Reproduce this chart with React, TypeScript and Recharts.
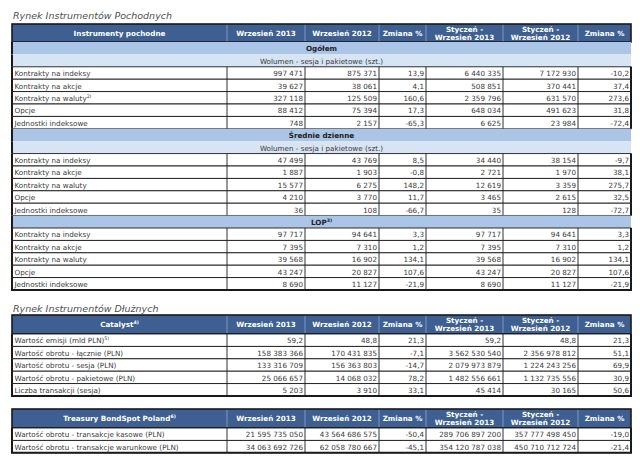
import React from "react";
import { ComposedChart, Customized } from "recharts";

// Column headers ("|" splits a header into two lines, "^" starts a footnote mark)
const derivHeader = ["Instrumenty pochodne", "Wrzesień 2013", "Wrzesień 2012", "Zmiana %", "Styczeń -|Wrzesień 2013", "Styczeń -|Wrzesień 2012", "Zmiana %"];
const catalystHeader = ["Catalyst^4)", "Wrzesień 2013", "Wrzesień 2012", "Zmiana %", "Styczeń -|Wrzesień 2013", "Styczeń -|Wrzesień 2012", "Zmiana %"];
const bondSpotHeader = ["Treasury BondSpot Poland^6)", "Wrzesień 2013", "Wrzesień 2012", "Zmiana %", "Styczeń -|Wrzesień 2013", "Styczeń -|Wrzesień 2012", "Zmiana %"];

const volumeNote = "Wolumen - sesja i pakietowe (szt.)";
const instruments = ["Kontrakty na indeksy", "Kontrakty na akcje", "Kontrakty na waluty", "Opcje", "Jednostki indeksowe"];
const instrumentsTotal = ["Kontrakty na indeksy", "Kontrakty na akcje", "Kontrakty na waluty^2)", "Opcje", "Jednostki indeksowe"];

const totalVolume = [
  ["997 471", "875 371", "13,9", "6 440 335", "7 172 930", "-10,2"],
  ["39 627", "38 061", "4,1", "508 851", "370 441", "37,4"],
  ["327 118", "125 509", "160,6", "2 359 796", "631 570", "273,6"],
  ["88 412", "75 394", "17,3", "648 034", "491 623", "31,8"],
  ["748", "2 157", "-65,3", "6 625", "23 984", "-72,4"],
];
const dailyAverage = [
  ["47 499", "43 769", "8,5", "34 440", "38 154", "-9,7"],
  ["1 887", "1 903", "-0,8", "2 721", "1 970", "38,1"],
  ["15 577", "6 275", "148,2", "12 619", "3 359", "275,7"],
  ["4 210", "3 770", "11,7", "3 465", "2 615", "32,5"],
  ["36", "108", "-66,7", "35", "128", "-72,7"],
];
const openInterest = [
  ["97 717", "94 641", "3,3", "97 717", "94 641", "3,3"],
  ["7 395", "7 310", "1,2", "7 395", "7 310", "1,2"],
  ["39 568", "16 902", "134,1", "39 568", "16 902", "134,1"],
  ["43 247", "20 827", "107,6", "43 247", "20 827", "107,6"],
  ["8 690", "11 127", "-21,9", "8 690", "11 127", "-21,9"],
];

const catalystLabels = ["Wartość emisji (mld PLN)^5)", "Wartość obrotu - łącznie (PLN)", "Wartość obrotu - sesja (PLN)", "Wartość obrotu - pakietowe (PLN)", "Liczba transakcji (sesja)"];
const catalystValues = [
  ["59,2", "48,8", "21,3", "59,2", "48,8", "21,3"],
  ["158 383 366", "170 431 835", "-7,1", "3 562 530 540", "2 356 978 812", "51,1"],
  ["133 316 709", "156 363 803", "-14,7", "2 079 973 879", "1 224 243 256", "69,9"],
  ["25 066 657", "14 068 032", "78,2", "1 482 556 661", "1 132 735 556", "30,9"],
  ["5 203", "3 910", "33,1", "45 414", "30 165", "50,6"],
];

const bondSpotLabels = ["Wartość obrotu - transakcje kasowe (PLN)", "Wartość obrotu - transakcje warunkowe (PLN)"];
const bondSpotValues = [
  ["21 595 735 050", "43 564 686 575", "-50,4", "289 706 897 200", "357 777 498 450", "-19,0"],
  ["34 063 692 726", "62 058 780 667", "-45,1", "354 120 787 038", "450 710 712 724", "-21,4"],
];

// layout
const COLS = [12, 227, 305, 379, 426, 503, 578, 631];
const ROW_H = 12.4;
const FONT = "'DejaVu Sans', Verdana, sans-serif";
const HEAD_BG = "#3d5f92";
const SECTION_BG = "#aac5e6";
const SUB_BG = "#d7e4f4";
const LINE = "#1a1a1a";
const TEXT = "#3a3a3a";

function Label({ x, y, text, anchor = "start", size = 7.2, weight = "normal", fill = TEXT, italic = false }: any) {
  const [main, sup] = text.split("^");
  return (
    <text x={x} y={y} fontSize={size} fontFamily={FONT} fontWeight={weight} fontStyle={italic ? "italic" : "normal"} fill={fill} textAnchor={anchor}>
      {main}
      {sup && <tspan dy={-3} fontSize={size * 0.65}>{sup}</tspan>}
    </text>
  );
}

type Row =
  | { kind: "section"; text: string }
  | { kind: "sub"; text: string }
  | { kind: "data"; label: string; values: string[] };

function Table({ top, headH, header, rows }: { top: number; headH: number; header: string[]; rows: Row[] }) {
  const left = COLS[0];
  const right = COLS[COLS.length - 1];
  const mid = (left + right) / 2;
  const els: any[] = [];
  // header
  els.push(<rect key="hbg" x={left} y={top} width={right - left} height={headH} fill={HEAD_BG} />);
  header.forEach((h, i) => {
    const cx = (COLS[i] + COLS[i + 1]) / 2;
    const lines = h.split("|");
    const cy = top + headH / 2 + 2.6;
    lines.forEach((ln, j) => {
      const y = lines.length === 1 ? cy : cy + (j - 0.5) * 8.2;
      els.push(<Label key={`h${i}-${j}`} x={cx} y={y} text={ln} anchor="middle" weight="bold" fill="#fff" />);
    });
    if (i > 0) els.push(<line key={`hs${i}`} x1={COLS[i]} x2={COLS[i]} y1={top} y2={top + headH} stroke="#8ea7cc" strokeWidth={0.8} />);
  });
  els.push(<rect key="hfr" x={left} y={top} width={right - left} height={headH} fill="none" stroke={LINE} strokeWidth={1.6} />);

  let y = top + headH;
  rows.forEach((r, k) => {
    const base = y + ROW_H - 3;
    if (r.kind === "section" || r.kind === "sub") {
      els.push(<rect key={`r${k}`} x={left} y={y} width={right - left} height={ROW_H} fill={r.kind === "section" ? SECTION_BG : SUB_BG} />);
      els.push(
        <Label key={`t${k}`} x={mid} y={base} text={r.text} anchor="middle" weight={r.kind === "section" ? "bold" : "normal"} fill={r.kind === "section" ? "#222" : TEXT} />
      );
      els.push(<line key={`l${k}`} x1={left} x2={left} y1={y} y2={y + ROW_H} stroke={LINE} strokeWidth={2} />);
    } else {
      els.push(<rect key={`r${k}`} x={left} y={y} width={right - left} height={ROW_H} fill="#fff" stroke={LINE} strokeWidth={0.9} />);
      COLS.slice(1, -1).forEach((cx, c) => {
        els.push(<line key={`v${k}-${c}`} x1={cx} x2={cx} y1={y} y2={y + ROW_H} stroke={LINE} strokeWidth={0.9} />);
      });
      els.push(<Label key={`t${k}`} x={left + 2.5} y={base} text={r.label} />);
      r.values.forEach((v, c) => {
        els.push(<Label key={`d${k}-${c}`} x={COLS[c + 2] - 2} y={base} text={v} anchor="end" />);
      });
      els.push(<line key={`lb${k}`} x1={left} x2={left} y1={y} y2={y + ROW_H} stroke={LINE} strokeWidth={2} />);
      els.push(<line key={`rb${k}`} x1={right} x2={right} y1={y} y2={y + ROW_H} stroke={LINE} strokeWidth={2} />);
    }
    y += ROW_H;
  });
  els.push(<line key="bottom" x1={left - 1} x2={right + 1} y1={y} y2={y} stroke={LINE} strokeWidth={2} />);
  return <g>{els}</g>;
}

const dataRows = (labels: string[], values: string[][]): Row[] =>
  labels.map((label, i) => ({ kind: "data", label, values: values[i] }));

function TableLayer() {
  const derivRows: Row[] = [
    { kind: "section", text: "Ogółem" },
    { kind: "sub", text: volumeNote },
    ...dataRows(instrumentsTotal, totalVolume),
    { kind: "section", text: "Średnie dzienne" },
    { kind: "sub", text: volumeNote },
    ...dataRows(instruments, dailyAverage),
    { kind: "section", text: "LOP^3)" },
    ...dataRows(instruments, openInterest),
  ];
  return (
    <g>
      <rect x={0} y={0} width={640} height={459} fill="#fff" />
      <Label x={13} y={19} text="Rynek Instrumentów Pochodnych" size={9.5} fill="#505050" italic />
      <Table top={24} headH={18} header={derivHeader} rows={derivRows} />
      <Label x={13} y={312} text="Rynek Instrumentów Dłużnych" size={9.5} fill="#505050" italic />
      <Table top={315} headH={19} header={catalystHeader} rows={dataRows(catalystLabels, catalystValues)} />
      <Table top={409} headH={19} header={bondSpotHeader} rows={dataRows(bondSpotLabels, bondSpotValues)} />
    </g>
  );
}

export default function App() {
  return (
    <div style={{ position: "absolute", left: 0, top: 0, width: 640, height: 459, background: "#fff" }}>
      <ComposedChart width={640} height={459} data={[]} margin={{ top: 0, right: 0, bottom: 0, left: 0 }}>
        <Customized component={<TableLayer />} />
      </ComposedChart>
    </div>
  );
}
